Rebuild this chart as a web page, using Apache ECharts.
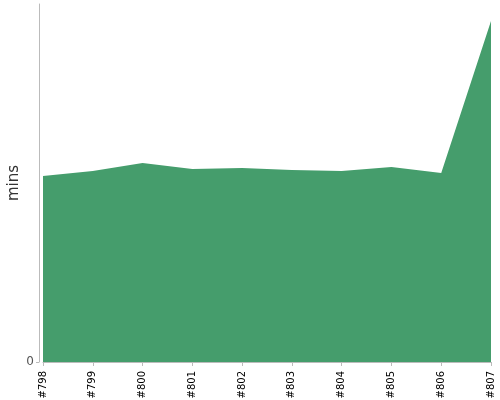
<!DOCTYPE html>
<html>
<head>
<meta charset="utf-8">
<script src="https://cdn.jsdelivr.net/npm/echarts@6/dist/echarts.min.js"></script>
<style>
  html, body { margin: 0; padding: 0; background: #fff; }
  #chart { width: 500px; height: 400px; }
</style>
</head>
<body>
<div id="chart"></div>
<script>
// build ids along the x axis
const builds = ['#798', '#799', '#800', '#801', '#802', '#803', '#804', '#805', '#806', '#807']
// duration per build, in minutes
const durations = [18.7, 19.2, 20.0, 19.4, 19.5, 19.3, 19.2, 19.6, 19.0, 34.3]
const yMax = 36
const yTicks = [0]

const myChart = echarts.init(document.getElementById('chart'))
const option = {
  animation: false,
  grid: {
    left: 43,
    right: 9,
    top: 4,
    bottom: 38,
    outerBoundsMode: 'none'
  },
  xAxis: {
    type: 'category',
    boundaryGap: false,
    data: builds,
    offset: 3,
    axisLine: {
      lineStyle: { color: '#bbb', width: 1 }
    },
    axisTick: {
      show: true,
      length: 4,
      lineStyle: { color: '#bbb' }
    },
    axisLabel: {
      rotate: 90,
      margin: 6,
      fontSize: 10,
      color: '#000',
      fontFamily: 'DejaVu Sans'
    }
  },
  yAxis: {
    type: 'value',
    min: 0,
    max: yMax,
    offset: 4,
    name: 'mins',
    nameLocation: 'middle',
    nameGap: 17,
    nameMoveOverlap: false,
    nameTextStyle: {
      fontSize: 15,
      color: '#333',
      fontFamily: 'DejaVu Sans'
    },
    axisLine: {
      show: true,
      lineStyle: { color: '#bbb', width: 1 }
    },
    axisTick: {
      show: true,
      length: 3,
      customValues: yTicks,
      lineStyle: { color: '#bbb' }
    },
    axisLabel: {
      margin: 5,
      fontSize: 12,
      color: '#555',
      customValues: yTicks,
      fontFamily: 'DejaVu Sans'
    },
    splitLine: { show: false }
  },
  series: [
    {
      name: 'duration',
      type: 'line',
      data: durations,
      symbol: 'none',
      lineStyle: { width: 0 },
      areaStyle: {
        color: '#459d6c',
        opacity: 1
      }
    }
  ]
}
myChart.setOption(option)
</script>
</body>
</html>
